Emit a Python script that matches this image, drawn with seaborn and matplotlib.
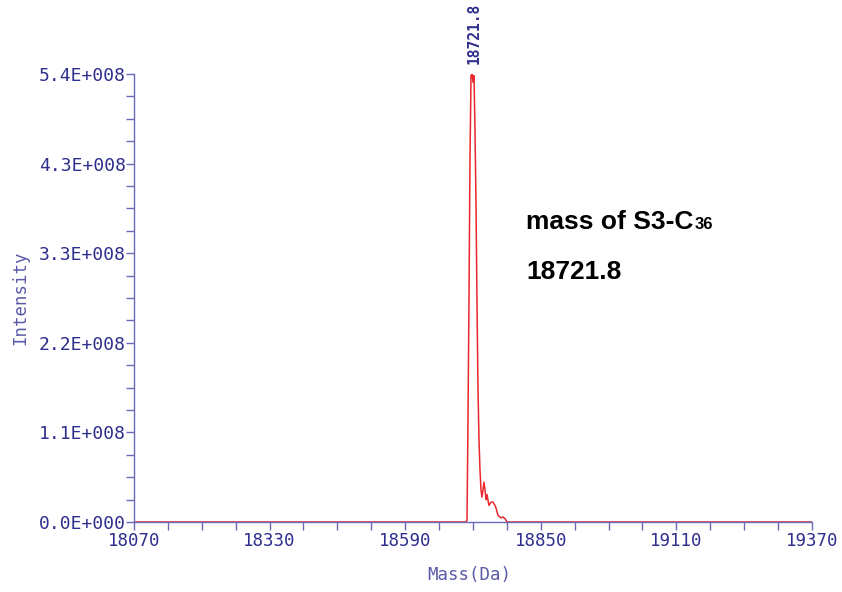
import matplotlib
matplotlib.use("Agg")
import matplotlib.pyplot as plt
import seaborn as sns
import pandas as pd
import numpy as np

# ---- data ----
mass = [18070, 18706.6, 18708.5, 18710.4, 18712.3, 18714.2, 18716.2, 18718.1, 18720.0,
        18721.9, 18723.8, 18725.7, 18727.6, 18729.6, 18731.5, 18733.4, 18735.3, 18737.2,
        18741.1, 18743.0, 18744.9, 18746.8, 18750.6, 18754.5, 18758.3, 18762.1, 18764.1,
        18767.9, 18773.7, 18777.5, 18781.4, 18785.2, 19370]
intensity_e8 = [0, 0, 0.02, 1.23, 2.68, 4.36, 5.38, 5.41, 5.30,
                5.38, 4.73, 3.88, 2.68, 1.59, 0.99, 0.63, 0.39, 0.30,
                0.48, 0.39, 0.27, 0.33, 0.20, 0.24, 0.24, 0.20, 0.17,
                0.08, 0.05, 0.06, 0.04, 0.0, 0]
xtick_vals = [18070, 18330, 18590, 18850, 19110, 19370]
xtick_labels = ["18070", "18330", "18590", "18850", "19110", "19370"]
ytick_vals_e8 = [0, 1.08, 2.16, 3.24, 4.32, 5.4]
ytick_labels = ["0.0E+000", "1.1E+008", "2.2E+008", "3.3E+008", "4.3E+008", "5.4E+008"]
peak_label = "18721.8"
peak_mass = 18721.8
annot_line1 = "mass of S3-C"
annot_sub = "36"
annot_line2 = "18721.8"

df = pd.DataFrame({"Mass": mass, "Intensity": np.array(intensity_e8) * 1e8})

sns.set_style("ticks")
axis_blue = "#6a6ab8"
text_blue = "#2e2e8c"
label_blue = "#5a5aa8"
mono = ["DejaVu Sans Mono"]

fig = plt.figure(figsize=(8.42, 5.92), dpi=100)
ax = fig.add_axes([134 / 842, 1 - 522 / 592, (812 - 134) / 842, (522 - 74) / 592])

sns.lineplot(data=df, x="Mass", y="Intensity", ax=ax, color="#e8282c", linewidth=1.1,
             estimator=None, sort=False)

ax.set_xlim(18070, 19370)
ax.set_ylim(0, 5.4e8)
for s in ["top", "right"]:
    ax.spines[s].set_visible(False)
for s in ["left", "bottom"]:
    ax.spines[s].set_color(axis_blue)
    ax.spines[s].set_linewidth(1.0)

ax.set_xticks(xtick_vals)
ax.set_xticklabels(xtick_labels, fontfamily=mono, fontsize=12.5, color=text_blue)
ax.set_yticks([v * 1e8 for v in ytick_vals_e8])
ax.set_yticklabels(ytick_labels, fontfamily=mono, fontsize=13, color=text_blue)
ax.set_xticks(np.arange(18070, 19371, 65), minor=True)
ax.set_yticks(np.arange(0, 5.41e8, 0.27e8), minor=True)
ax.tick_params(axis="both", which="both", direction="out", color=axis_blue, width=1.0)
ax.tick_params(axis="both", which="major", length=6)
ax.tick_params(axis="both", which="minor", length=6)
ax.tick_params(axis="x", which="major", pad=1)
ax.tick_params(axis="y", which="major", pad=0)

ax.set_xlabel("Mass(Da)", fontfamily=mono, fontsize=12.5, color=label_blue)
ax.set_ylabel("Intensity", fontfamily=mono, fontsize=12.5, color=label_blue)
ax.xaxis.set_label_coords((469 - 134) / 678, (522 - 566) / 448)
ax.yaxis.set_label_coords((29 - 134) / 678, 0.5)

ax.annotate(peak_label, xy=(peak_mass, 5.4e8), xytext=(0, 7), textcoords="offset points",
            rotation=90, ha="center", va="bottom", fontfamily=mono, fontsize=10.5,
            fontweight="bold", color=text_blue, annotation_clip=False)

bold = ["Liberation Sans", "DejaVu Sans"]
t1 = fig.text(526 / 842, 1 - 229 / 592, annot_line1, fontfamily=bold, fontweight="bold",
              fontsize=19, color="black", va="baseline")
fig.canvas.draw()
bb = t1.get_window_extent()
fig.text(bb.x1 / fig.bbox.width + 1 / 842, 1 - 229 / 592, annot_sub, fontfamily=bold,
         fontweight="bold", fontsize=12, color="black", va="baseline")
fig.text(526 / 842, 1 - 279 / 592, annot_line2, fontfamily=bold, fontweight="bold",
         fontsize=19, color="black", va="baseline")

fig.savefig("out.png", dpi=100)
